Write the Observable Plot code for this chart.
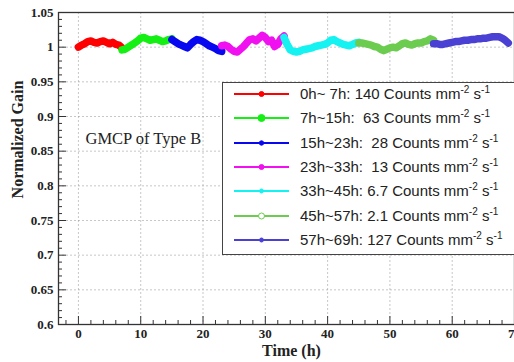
<!DOCTYPE html>
<html>
<head>
<meta charset="utf-8">
<script src="https://cdn.jsdelivr.net/npm/d3@7"></script>
<script src="https://cdn.jsdelivr.net/npm/@observablehq/plot@0.6"></script>
<style>
  body { margin: 0; background: #fff; }
  #wrap { position: relative; width: 514px; height: 362px; overflow: hidden; background: #fff; }
  #legend { position: absolute; left: 222px; top: 82px; width: 300px; height: 173px;
    border: 1px solid #444; background: #fff; box-sizing: border-box;
    font-family: "Liberation Sans", Arial, sans-serif; font-size: 15px; color: #222; }
  .row { position: absolute; left: 0; height: 24px; width: 300px; }
  .row svg { position: absolute; left: 10px; top: 7px; }
  .row span { position: absolute; left: 77px; top: 3px; white-space: pre; line-height: 18px; }
  .row sup { font-size: 10px; vertical-align: 6px; line-height: 0; }
</style>
</head>
<body>
<div id="wrap"><div id="legend"></div></div>
<script>
// ---- data ----
const segLabels = ["0h~ 7h:", "7h~15h:", "15h~23h:", "23h~33h:", "33h~45h:", "45h~57h:", "57h~69h:"];
const segRates  = ["140", " 63", " 28", " 13", "6.7", "2.1", "127"];
const segColors = ["#ff0000", "#14f014", "#0808f0", "#f010f0", "#14f2f2", "#6ccc50", "#4a40d4"];

const t1 = [0,0.5,1,1.5,2,2.5,3,3.5,4,4.5,5,5.5,6,6.5,7];
const g1 = [1.000,1.003,1.005,1.008,1.009,1.007,1.006,1.008,1.009,1.007,1.005,1.007,1.004,1.003,0.999];
const t2 = [7,7.5,8,8.5,9,9.5,10,10.5,11,11.5,12,12.5,13,13.5,14,14.5,15];
const g2 = [0.996,0.997,1.000,1.003,1.006,1.009,1.013,1.014,1.012,1.010,1.011,1.012,1.010,1.008,1.009,1.011,1.012];
const t3 = [15,15.5,16,16.5,17,17.5,18,18.5,19,19.5,20,20.5,21,21.5,22,22.5,23];
const g3 = [1.011,1.008,1.005,1.003,1.001,0.999,1.004,1.008,1.011,1.010,1.008,1.005,1.002,1.000,0.998,0.995,0.994];
const t4 = [23,23.5,24,24.5,25,25.5,26,26.5,27,27.5,28,28.5,29,29.5,30,30.5,31,31.5,32,32.5,33];
const g4 = [1.002,1.003,1.001,0.997,0.994,0.993,0.997,1.001,1.006,1.011,1.012,1.009,1.013,1.017,1.014,1.008,1.010,1.001,1.004,1.012,1.016];
const t5 = [33,33.5,34,34.5,35,35.5,36,36.5,37,37.5,38,38.5,39,39.5,40,40.5,41,41.5,42,42.5,43,43.5,44,44.5,45];
const g5 = [1.014,1.004,0.996,0.994,0.993,0.994,0.996,0.997,0.998,0.999,1.001,1.002,1.003,1.004,1.006,1.010,1.011,1.008,1.006,1.004,1.003,1.002,1.004,1.006,1.007];
const t6 = [45,45.5,46,46.5,47,47.5,48,48.5,49,49.5,50,50.5,51,51.5,52,52.5,53,53.5,54,54.5,55,55.5,56,56.5,57];
const g6 = [1.006,1.006,1.005,1.004,1.003,1.001,1.000,0.997,0.995,0.997,0.999,1.000,0.999,1.002,1.005,1.006,1.004,1.003,1.005,1.006,1.006,1.008,1.009,1.012,1.010];
const t7 = [57,57.5,58,58.5,59,59.5,60,60.5,61,61.5,62,62.5,63,63.5,64,64.5,65,65.5,66,66.5,67,67.5,68,68.5,69];
const g7 = [1.005,1.005,1.004,1.004,1.005,1.006,1.007,1.008,1.008,1.009,1.010,1.010,1.011,1.011,1.012,1.012,1.013,1.013,1.014,1.015,1.015,1.015,1.013,1.010,1.006];

const xMajor = [0,10,20,30,40,50,60,70];
const xMinor = [-2,2,4,6,8,12,14,16,18,22,24,26,28,32,34,36,38,42,44,46,48,52,54,56,58,62,64,66,68];
const yMajor = [0.6,0.65,0.7,0.75,0.8,0.85,0.9,0.95,1.0,1.05];
const yMinor = [0.61,0.62,0.63,0.64,0.66,0.67,0.68,0.69,0.71,0.72,0.73,0.74,0.76,0.77,0.78,0.79,0.81,0.82,0.83,0.84,0.86,0.87,0.88,0.89,0.91,0.92,0.93,0.94,0.96,0.97,0.98,0.99,1.01,1.02,1.03,1.04];

const times = [t1,t2,t3,t4,t5,t6,t7];
const gains = [g1,g2,g3,g4,g5,g6,g7];

const serif = "'Liberation Serif', 'Times New Roman', serif";
const fmtY = d => String(+d.toFixed(2));

const lineMarks = times.map((ts, k) =>
  Plot.line(ts.map((t, i) => ({t, g: gains[k][i]})), {
    x: "t", y: "g", stroke: segColors[k], strokeWidth: 7.5,
    strokeLinejoin: "round", strokeLinecap: "round"
  })
);

const chart = Plot.plot({
  width: 514, height: 362,
  marginLeft: 58, marginRight: 0, marginTop: 12, marginBottom: 38,
  x: {domain: [-3.2, 70]},
  y: {domain: [0.6, 1.05]},
  style: {background: "transparent", overflow: "visible"},
  marks: [
    Plot.gridX(xMajor, {stroke: "#999", strokeOpacity: 0.55, strokeDasharray: "2,2"}),
    Plot.gridY(yMajor, {stroke: "#999", strokeOpacity: 0.55, strokeDasharray: "2,2"}),
    ...lineMarks,
    Plot.frame({stroke: "#333", strokeWidth: 1.3}),
    Plot.axisX(xMinor, {tickSize: -4, tickFormat: () => "", label: null, stroke: "#333"}),
    Plot.axisX(xMajor, {tickSize: -8, tickPadding: 12, label: null, stroke: "#333",
      fontFamily: serif, fontWeight: "bold", fontSize: 13, fill: "#222"}),
    Plot.axisY(yMinor, {tickSize: -4, tickFormat: () => "", label: null, stroke: "#333"}),
    Plot.axisY(yMajor, {tickSize: -8, tickPadding: 13, label: null, tickFormat: fmtY, stroke: "#333",
      fontFamily: serif, fontWeight: "bold", fontSize: 13, fill: "#222"}),
    Plot.text(["Normalized Gain"], {frameAnchor: "left", rotate: -90, dx: -41, dy: -29,
      textAnchor: "middle", lineAnchor: "middle",
      fontFamily: serif, fontWeight: "bold", fontSize: 16, fill: "#222"}),
    Plot.text(["Time (h)"], {frameAnchor: "bottom", dx: 5, dy: 26, lineAnchor: "middle",
      fontFamily: serif, fontWeight: "bold", fontSize: 16, fill: "#222"}),
    Plot.text(["GMCP of Type B"], {frameAnchor: "top-left", dx: 27, dy: 126, textAnchor: "start",
      lineAnchor: "middle", fontFamily: serif, fontSize: 16.5, fill: "#222"})
  ]
});
document.getElementById("wrap").prepend(chart);

// ---- legend ----
const markerR = [2.5, 3.5, 2.2, 2.5, 2, 3, 2];
const markerOpen = [false, false, false, false, false, true, false];
const legend = document.getElementById("legend");
segLabels.forEach((lab, i) => {
  const row = document.createElement("div");
  row.className = "row";
  row.style.top = (-1 + i * 24.3) + "px";
  const c = segColors[i];
  row.innerHTML =
    `<svg width="58" height="10"><line x1="1" y1="5" x2="56" y2="5" stroke="${c}" stroke-width="2"/>` +
    `<circle cx="28.5" cy="5" r="${markerR[i]}" fill="${markerOpen[i] ? "#fff" : c}" stroke="${c}" stroke-width="1"/></svg>` +
    `<span>${lab} ${segRates[i]} Counts mm<sup>-2</sup> s<sup>-1</sup></span>`;
  legend.appendChild(row);
});
</script>
</body>
</html>
